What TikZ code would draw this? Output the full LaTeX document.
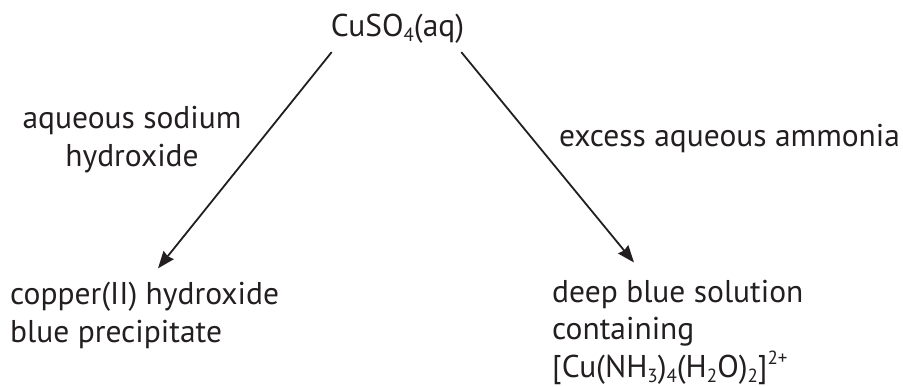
\documentclass[tikz,border=0pt]{standalone}
\usepackage{fontspec}
\setmainfont{PT Sans}
\usetikzlibrary{arrows.meta,positioning}
\definecolor{ink}{HTML}{231F20}
\newcommand{\chemsub}[1]{\raisebox{-0.28ex}{\fontsize{19}{19}\selectfont #1}}
\newcommand{\chemsup}[1]{\raisebox{0.85ex}{\fontsize{19}{19}\selectfont #1}}

\begin{document}
\begin{tikzpicture}[x=1pt, y=-1pt,
    label/.style={inner sep=0pt, text=ink, font=\fontsize{31.5}{38}\selectfont},
    arr/.style={draw=ink, line width=1.8pt, -{Stealth[length=17pt, width=13pt, inset=1.5pt]}}]
    \useasboundingbox (0,0) rectangle (903,387);

    % starting solution
    \node[label, anchor=base] (top) at (397.5,37) {CuSO\chemsub{4}(aq)};

    % reagents
    \node[label, anchor=base, align=center] (naoh) at (132,167) {aqueous sodium\\hydroxide};
    \node[label, anchor=base west] (nh3) at (559,147) {excess aqueous ammonia};

    % products
    \node[label, anchor=base west, align=left] (cuoh) at (10,343) {copper(II) hydroxide\\blue precipitate};
    \node[label, anchor=base west, align=left] (deep) at (552,378)
        {deep blue solution\\containing\\{}[Cu(NH\chemsub{3})\chemsub{4}(H\chemsub{2}O)\chemsub{2}]\chemsup{2+}};

    % arrows
    \draw[arr] ([shift={(1,8)}]top.south west) -- ([shift={(148,-14)}]cuoh.north west);
    \draw[arr] ([shift={(-3,8)}]top.south east) -- ([shift={(82,-17)}]deep.north west);
\end{tikzpicture}
\end{document}
